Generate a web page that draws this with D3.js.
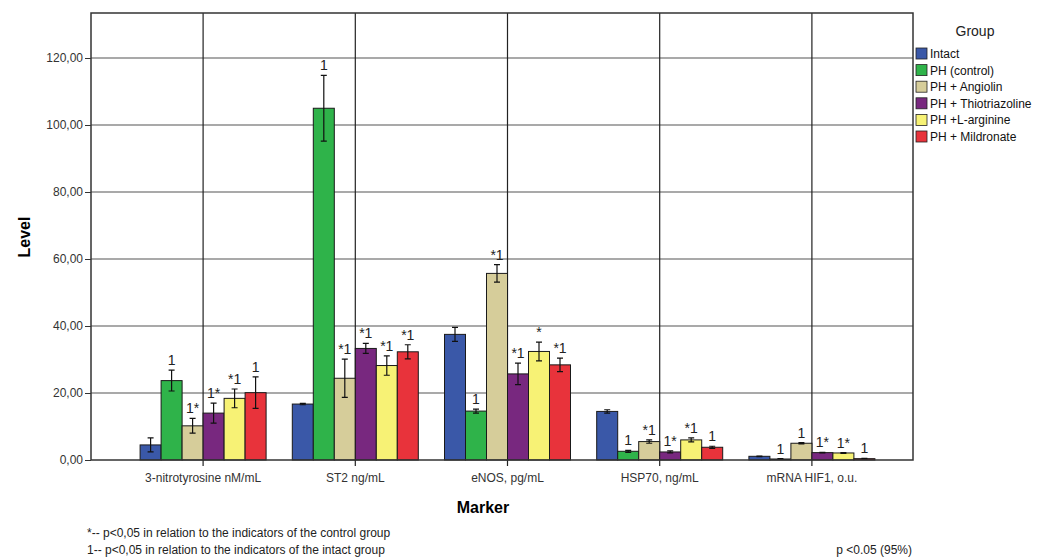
<!DOCTYPE html>
<html>
<head>
<meta charset="utf-8">
<script src="https://cdn.jsdelivr.net/npm/d3@7"></script>
<style>
  body { margin: 0; background: #fff; }
  svg { font-family: "Liberation Sans", Arial, sans-serif; }
</style>
</head>
<body>
<svg width="1037" height="560"></svg>
<script>
var markers = ["3-nitrotyrosine nM/mL", "ST2 ng/mL", "eNOS, pg/mL", "HSP70, ng/mL", "mRNA HIF1, o.u."];
var groups = ["Intact", "PH (control)", "PH + Angiolin", "PH + Thiotriazoline", "PH +L-arginine", "PH + Mildronate"];
var colors = ["#3a58a8", "#2fb34a", "#d6cd9a", "#78287f", "#f7f275", "#e8333b"];

// mean values per marker, in group order
var values = [
    [4.5, 23.7, 10.2, 14.0, 18.4, 20.1],
    [16.7, 105.0, 24.4, 33.3, 28.2, 32.3],
    [37.5, 14.6, 55.7, 25.7, 32.4, 28.4],
    [14.5, 2.6, 5.5, 2.4, 6.0, 3.8],
    [1.1, 0.3, 5.0, 2.2, 2.1, 0.4]
];
// error bar half-widths
var errors = [
    [2.1, 3.1, 2.2, 3.0, 2.8, 4.7],
    [0.2, 9.8, 5.7, 1.5, 2.9, 2.1],
    [2.1, 0.6, 2.6, 3.2, 2.8, 2.0],
    [0.5, 0.3, 0.5, 0.3, 0.6, 0.3],
    [0.1, 0.1, 0.2, 0.1, 0.1, 0.1]
];
// significance marks above bars
var marks = [
    ["", "1", "1*", "1*", "*1", "1"],
    ["", "1", "*1", "*1", "*1", "*1"],
    ["", "1", "*1", "*1", "*", "*1"],
    ["", "1", "*1", "1*", "*1", "1"],
    ["", "1", "1", "1*", "1*", "1"]
];
var yTicks = [0, 20, 40, 60, 80, 100, 120];

var svg = d3.select("svg");
var plot = { left: 91, right: 913, top: 13, bottom: 460 };

var y = d3.scaleLinear().domain([0, 120]).range([plot.bottom, 58]);
var x = d3.scaleBand().domain(markers).range([127, 888]);
var xg = d3.scaleBand().domain(groups).range([0, 126]).padding(0);
var xOff = (x.bandwidth() - 126) / 2;

// horizontal grid
svg.append("g").selectAll("line")
    .data(yTicks.slice(1))
    .enter().append("line")
    .attr("x1", plot.left).attr("x2", plot.right)
    .attr("y1", function (d) { return y(d); })
    .attr("y2", function (d) { return y(d); })
    .attr("stroke", "#555").attr("stroke-width", 1.2);

// vertical grid at category centers
svg.append("g").selectAll("line")
    .data(markers)
    .enter().append("line")
    .attr("x1", function (d) { return x(d) + x.bandwidth() / 2; })
    .attr("x2", function (d) { return x(d) + x.bandwidth() / 2; })
    .attr("y1", plot.top).attr("y2", plot.bottom + 6)
    .attr("stroke", "#222").attr("stroke-width", 1.2);

// bars
var cat = svg.append("g").selectAll("g")
    .data(markers)
    .enter().append("g")
    .attr("transform", function (d) { return "translate(" + (x(d) + xOff) + ",0)"; });

var rows = cat.selectAll("g")
    .data(function (d, i) {
        return groups.map(function (g, j) {
            return { g: g, v: values[i][j], e: errors[i][j], m: marks[i][j], c: colors[j] };
        });
    })
    .enter().append("g");

rows.append("rect")
    .attr("x", function (d) { return xg(d.g); })
    .attr("width", xg.bandwidth())
    .attr("y", function (d) { return y(d.v); })
    .attr("height", function (d) { return y(0) - y(d.v); })
    .attr("fill", function (d) { return d.c; })
    .attr("stroke", "#1a1a1a").attr("stroke-width", 1);

// error bars
rows.append("path")
    .attr("d", function (d) {
        var cx = xg(d.g) + xg.bandwidth() / 2;
        var t = y(d.v + d.e), b = y(Math.max(0, d.v - d.e));
        return "M" + cx + "," + t + "V" + b +
            "M" + (cx - 3) + "," + t + "H" + (cx + 3) +
            "M" + (cx - 3) + "," + b + "H" + (cx + 3);
    })
    .attr("stroke", "#111").attr("stroke-width", 1.2).attr("fill", "none");

rows.append("text")
    .attr("x", function (d) { return xg(d.g) + xg.bandwidth() / 2; })
    .attr("y", function (d) { return y(d.v + d.e) - 5; })
    .attr("text-anchor", "middle")
    .attr("font-size", 14)
    .attr("fill", "#222")
    .text(function (d) { return d.m; });

// frame
svg.append("rect")
    .attr("x", plot.left).attr("y", plot.top)
    .attr("width", plot.right - plot.left).attr("height", plot.bottom - plot.top)
    .attr("fill", "none").attr("stroke", "#333").attr("stroke-width", 1.5);

// y axis
var yAxis = svg.append("g")
    .attr("transform", "translate(" + plot.left + ",0)")
    .call(d3.axisLeft(y).tickValues(yTicks).tickSize(6).tickPadding(2)
        .tickFormat(function (d) { return d3.format(".2f")(d).replace(".", ","); }));
yAxis.select(".domain").remove();
yAxis.selectAll("text").attr("font-size", 12).attr("fill", "#333")
    .attr("font-family", "'Liberation Sans', Arial, sans-serif");
yAxis.selectAll("line").attr("stroke", "#333");

// x labels
svg.append("g").selectAll("text")
    .data(markers)
    .enter().append("text")
    .attr("x", function (d) { return x(d) + x.bandwidth() / 2; })
    .attr("y", 482)
    .attr("text-anchor", "middle")
    .attr("font-size", 12)
    .attr("fill", "#333")
    .text(function (d) { return d; });

// axis titles
svg.append("text")
    .attr("transform", "translate(30,237) rotate(-90)")
    .attr("text-anchor", "middle")
    .attr("font-size", 16).attr("font-weight", "bold")
    .text("Level");

svg.append("text")
    .attr("x", 483).attr("y", 513)
    .attr("text-anchor", "middle")
    .attr("font-size", 16).attr("font-weight", "bold")
    .text("Marker");

// footnotes
var notes = ["*-- p<0,05 in relation to the indicators of the control group",
    "1-- p<0,05 in relation to the indicators of the intact group"];
svg.append("g").selectAll("text")
    .data(notes)
    .enter().append("text")
    .attr("x", 87)
    .attr("y", function (d, i) { return 537 + i * 17; })
    .attr("font-size", 12).attr("fill", "#222")
    .text(function (d) { return d; });

svg.append("text")
    .attr("x", 912).attr("y", 554)
    .attr("text-anchor", "end")
    .attr("font-size", 12).attr("fill", "#222")
    .text("p <0.05 (95%)");

// legend
var legend = svg.append("g").attr("transform", "translate(916,0)");
legend.append("text")
    .attr("x", 59).attr("y", 36)
    .attr("text-anchor", "middle")
    .attr("font-size", 14).attr("fill", "#222")
    .text("Group");

var li = legend.selectAll("g.item")
    .data(groups)
    .enter().append("g")
    .attr("class", "item")
    .attr("transform", function (d, i) { return "translate(0," + (48 + i * 16.6) + ")"; });
li.append("rect")
    .attr("width", 11).attr("height", 11)
    .attr("fill", function (d, i) { return colors[i]; })
    .attr("stroke", "#222").attr("stroke-width", 0.8);
li.append("text")
    .attr("x", 14).attr("y", 10)
    .attr("font-size", 12).attr("fill", "#111")
    .text(function (d) { return d; });
</script>
</body>
</html>
